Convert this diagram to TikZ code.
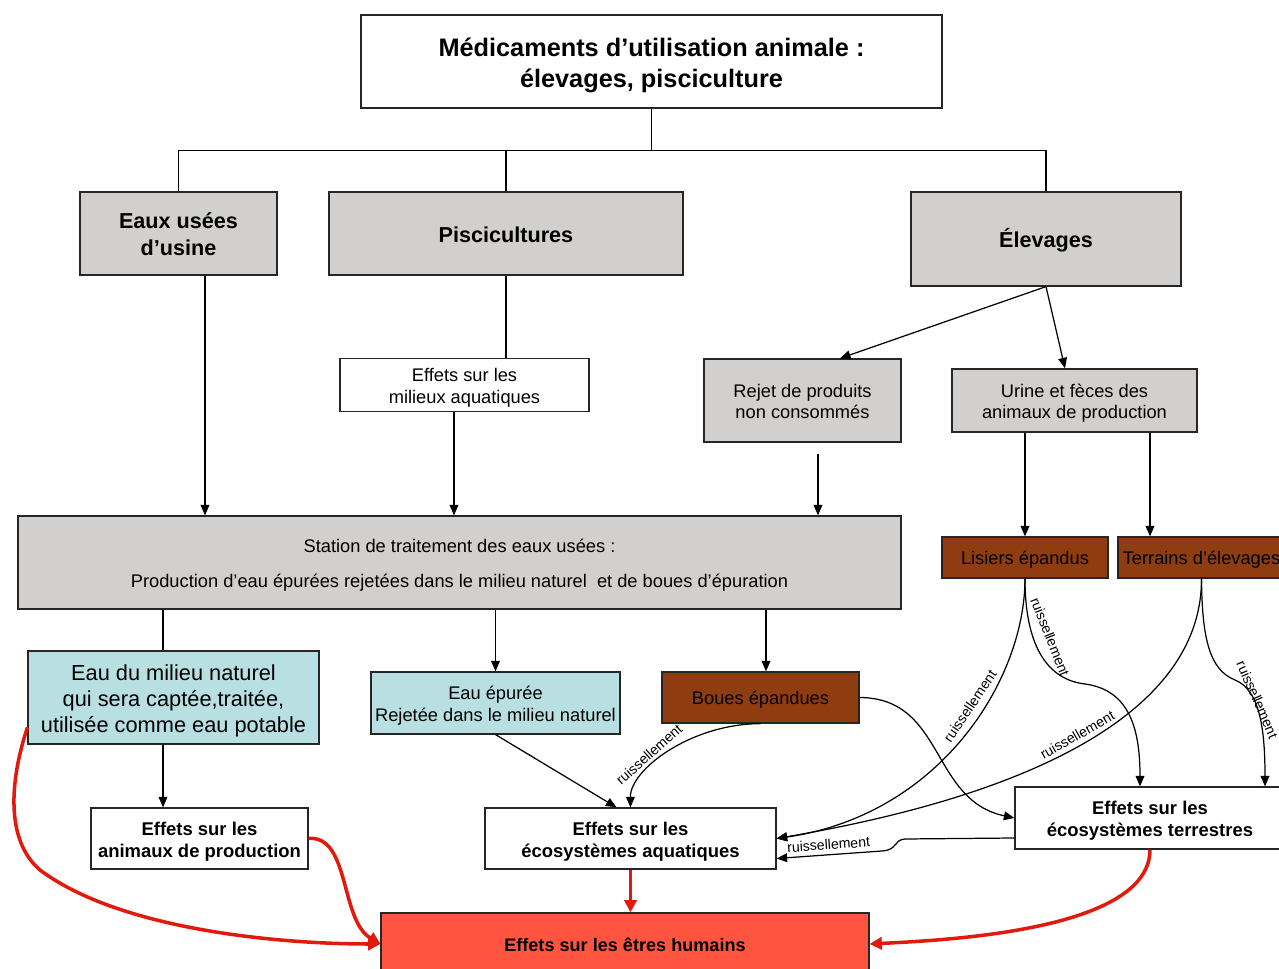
\documentclass[tikz,border=0pt]{standalone}
\usepackage{fontspec}
\setmainfont{Liberation Sans}
\usetikzlibrary{arrows.meta,calc,positioning}

\definecolor{boxgray}{RGB}{209,208,206}
\definecolor{waterblue}{RGB}{184,223,226}
\definecolor{mudbrown}{RGB}{142,60,16}
\definecolor{humanred}{RGB}{255,85,64}
\definecolor{arrowred}{RGB}{225,26,13}

\begin{document}
\begin{tikzpicture}[x=0.02cm, y=-0.02cm,
    box/.style={draw=black!85, line width=0.7pt, align=flush center, inner ysep=2pt, inner xsep=0pt},
    wd/.style={text width=#1, minimum width=#1},
    fs/.style n args={3}{font=\fontsize{#1}{#2}\selectfont#3,
      execute at begin node={\rule{0pt}{1.05\dimexpr#1pt\relax}},
      execute at end node={\rule[-.23\dimexpr#1pt\relax]{0pt}{.23\dimexpr#1pt\relax}}},
    head/.style={box, fill=boxgray, fs={12.3}{15.3}{\bfseries}},
    graybox/.style={box, fill=boxgray, fs={10.4}{12.5}{}},
    whitebox/.style={box, fill=white, fs={10.4}{12.5}{}},
    effbox/.style={box, fill=white, fs={10.5}{12.5}{\bfseries}},
    waterbox/.style={box, fill=waterblue, fs={10.4}{12.5}{}},
    mudbox/.style={box, fill=mudbrown, fs={10.4}{12.5}{}},
    arr/.style={line width=0.7pt, -{Triangle[length=6pt,width=5pt]}},
    redarr/.style={draw=arrowred, line width=2pt, -{Triangle[length=7pt,width=7pt]}},
    lab/.style={font=\fontsize{8}{9}\selectfont, sloped, above=1.5pt, inner sep=1pt}
  ]
  \useasboundingbox (0,0) rectangle (1279,969);
  \clip (0,0) rectangle (1279,969);

  % top of the tree
  \node[box, fs={14.4}{17.6}{\bfseries}, wd=11.62cm, minimum height=1.86cm]
    (meds) at (651.5,61.5) {Médicaments d’utilisation animale :\\élevages, pisciculture};
  \node[head, wd=3.94cm, minimum height=1.66cm] (eaux) at (178.5,233.5) {Eaux usées\\d’usine};
  \node[head, wd=7.08cm, minimum height=1.66cm] (pisci) at (506,233.5) {Piscicultures};
  \node[head, wd=5.4cm, minimum height=1.88cm] (elev) at (1046,239) {Élevages};

  % middle layer
  \node[whitebox, wd=4.98cm, minimum height=1.04cm] (milieux) at (464.5,385) {Effets sur les\\milieux aquatiques};
  \node[graybox, wd=3.94cm, minimum height=1.66cm] (rejet) at (802.5,400.5) {Rejet de produits\\non consommés};
  \node[graybox, wd=4.9cm, minimum height=1.26cm] (urine) at (1074.5,400.5) {Urine et fèces des\\animaux de production};
  \node[graybox, wd=17.66cm, minimum height=1.86cm] (station) at (459.5,562.5)
    {Station de traitement des eaux usées :\\[7pt]Production d’eau épurées rejetées dans le milieu naturel~ et de boues d’épuration};
  \node[mudbox, wd=3.32cm, minimum height=0.82cm] (lisiers) at (1025,557.5) {Lisiers épandus};
  \node[mudbox, wd=3.34cm, minimum height=0.82cm] (terrains) at (1201.5,557.5) {Terrains d’élevages};

  % lower layer
  \node[box, fill=waterblue, fs={12.4}{14.8}{}, wd=5.82cm, minimum height=1.86cm]
    (eaumil) at (173.5,697.5) {Eau du milieu naturel\\qui sera captée,traitée,\\utilisée comme eau potable};
  \node[waterbox, wd=4.98cm, minimum height=1.24cm] (eauep) at (495.5,703) {Eau épurée\\Rejetée dans le milieu naturel};
  \node[mudbox, wd=3.94cm, minimum height=1.02cm] (boues) at (760.5,697.5) {Boues épandues};
  \node[effbox, wd=4.34cm, minimum height=1.22cm] (anim) at (199.5,838.5) {Effets sur les\\animaux de production};
  \node[effbox, wd=5.82cm, minimum height=1.22cm] (aqua) at (630.5,838.5) {Effets sur les\\écosystèmes aquatiques};
  \node[effbox, wd=5.4cm, minimum height=1.24cm] (terr) at (1150,818) {Effets sur les\\écosystèmes terrestres};
  \node[box, fill=humanred, fs={10.3}{12.5}{\bfseries}, wd=9.76cm, minimum height=1.24cm]
    (humains) at (625,944) {Effets sur les êtres humains};

  % tree
  \draw[line width=0.7pt] (meds.south) -- ++(0,42) coordinate (fork);
  \foreach \n in {eaux,pisci,elev}
    \draw[line width=0.7pt] (fork) -| (\n.north);

  % connections
  \draw[line width=0.7pt] (pisci.south) -- (pisci.south |- milieux.north);
  \draw[arr] ($(eaux.south)+(26.5,0)$) -- ($(eaux.south |- station.north)+(26.5,0)$);
  \draw[arr] ($(milieux.south)+(-10.5,0)$) -- ($(milieux.south |- station.north)+(-10.5,0)$);
  \draw[arr] ($(rejet.south)+(15.5,11)$) -- ($(rejet.south |- station.north)+(15.5,0)$);
  \draw[arr] (elev.south) -- ($(rejet.north)+(37.5,0)$);
  \draw[arr] (elev.south) -- ($(urine.north)+(-9.5,0)$);
  \draw[arr] (lisiers.north |- urine.south) -- (lisiers.north);
  \draw[arr] ($(terrains.north |- urine.south)+(-51.5,0)$) -- ($(terrains.north)+(-51.5,0)$);
  \draw[line width=0.7pt] ($(eaumil.north |- station.south)+(-10.5,0)$) -- ($(eaumil.north)+(-10.5,0)$);
  \draw[arr] (eauep.north |- station.south) -- (eauep.north);
  \draw[arr] ($(boues.north |- station.south)+(5.5,0)$) -- ($(boues.north)+(5.5,0)$);
  \draw[arr] ($(eaumil.south)+(-10.5,0)$) -- ($(anim.north)+(-36.5,0)$);
  \draw[arr] (eauep.south) -- ($(aqua.north)+(-14,0)$);

  % ruissellement
  \draw[arr] (boues.south) .. controls (690,724) and (630,770) .. node[lab, pos=.6] {ruissellement} (aqua.north);
  \draw[arr] (boues.east) .. controls (945,698) and (930,800) .. (terr.west);
  \draw[arr] (lisiers.south) .. controls (1025,680) and (940,815) .. node[lab, pos=.42, above=3pt] {ruissellement} (aqua.east);
  \draw[arr] (terrains.south) .. controls (1202,700) and (1060,790) .. node[lab, pos=.53] {ruissellement} (aqua.east);
  \draw[arr] (lisiers.south) .. controls (1025,650) and (1050,680) .. node[lab, pos=.38, above=5pt] {ruissellement} (1085,684)
    .. controls (1130,690) and (1140,730) .. (terr.north -| 1140,0);
  \draw[arr] (terrains.south) .. controls (1202,640) and (1210,670) .. (1235,680)
    .. controls (1260,690) and (1265,730) .. node[lab, pos=.35, above=-2.5pt] {ruissellement} (terr.north -| 1265,0);
  \draw[arr] ($(terr.west)+(0,20)$) -- (905,839) .. controls (893,840) and (898,850) .. (882,851)
    -- node[lab] {ruissellement} ($(aqua.east)+(0,20)$);

  % towards the humans
  \draw[redarr] (aqua.south) -- (aqua.south |- humains.north);
  \draw[redarr] (anim.east) .. controls (350,835) and (340,920) .. (humains.west);
  \draw[redarr] ($(eaumil.west)+(0,30)$) .. controls (10,780) and (5,840) .. (40,870)
    .. controls (120,930) and (280,944) .. (humains.west);
  \draw[redarr] (terr.south) .. controls (1150,930) and (950,940) .. (humains.east);
\end{tikzpicture}
\end{document}
